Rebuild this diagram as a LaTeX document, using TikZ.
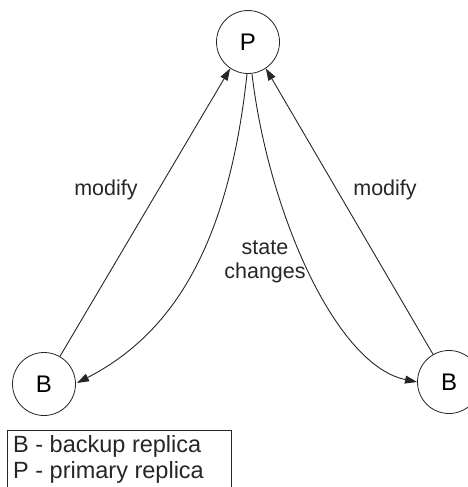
\documentclass[tikz,border=0pt]{standalone}
\usepackage{fontspec}
\setmainfont{Liberation Sans}
\usetikzlibrary{arrows.meta}
\begin{document}
\begin{tikzpicture}[x=1pt,y=-1pt,
  replica/.style={circle,draw=black!85,line width=0.8pt,minimum size=63pt,inner sep=0pt,font=\fontsize{24}{28}\selectfont},
  conn/.style={draw=black!85,line width=0.9pt,-{Triangle[length=12pt,width=8pt]}},
  lbl/.style={font=\fontsize{21.5}{26}\selectfont,text=black!85,align=center,inner sep=0pt},
  legendtext/.style={font=\fontsize{23.5}{26}\selectfont,text=black!85,anchor=base west,inner sep=0pt}]
  \useasboundingbox (0,0) rectangle (468,487);

  % replicas
  \node[replica] (P) at (248,42) {P};
  \node[replica] (BL) at (44,384) {B};
  \node[replica] (BR) at (449,382) {B};

  % modify requests from the backups
  \draw[conn] (BL.60) -- (P.-124);
  \draw[conn] (BR.120) -- (P.-56);

  % state changes pushed by the primary
  \coordinate (pl) at (247,74);
  \coordinate (pr) at (252,74);
  \coordinate (bl) at (77,383);
  \coordinate (br) at (417,382);
  \draw[conn] (pl) .. controls (228,250) and (170,335) .. (bl);
  \draw[conn] (pr) .. controls (268,210) and (335,365) .. (br);

  % labels
  \node[lbl] (m1) at (106,190) {modify};
  \node[lbl] (m2) at (385,190) {modify};
  \node[lbl] (sc) at (265,262) {state\\[-2pt]changes};

  % legend
  \draw[draw=black!85,line width=0.9pt] (231,495) -- (231,430) -- (7,430) -- (7,495);
  \node[legendtext] (lb) at (13,452) {B - backup replica};
  \node[legendtext] (lp) at (13,478) {P - primary replica};
\end{tikzpicture}
\end{document}
